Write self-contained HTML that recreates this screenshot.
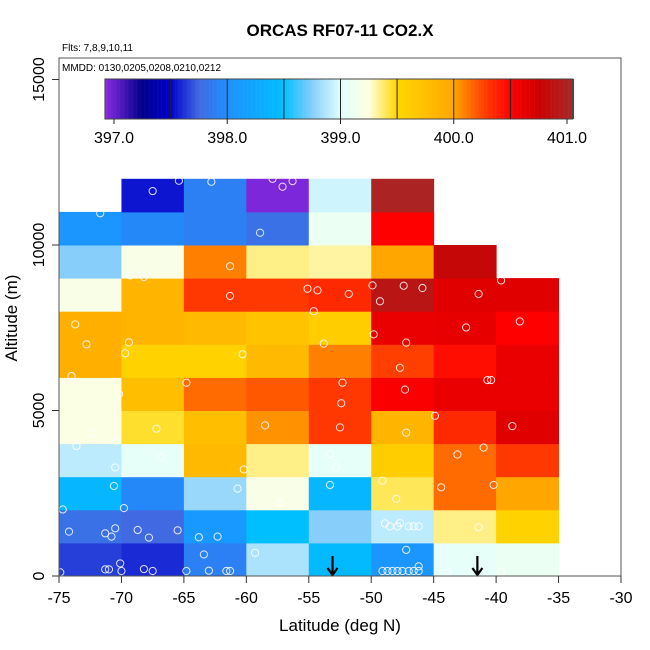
<!DOCTYPE html>
<html><head><meta charset="utf-8"><style>
html,body{margin:0;padding:0;background:#fff;}
svg{display:block;font-family:"Liberation Sans",sans-serif;}
</style></head><body>
<svg id="chart" width="650" height="650" viewBox="0 0 650 650">
<text x="340" y="36" text-anchor="middle" font-size="17" font-weight="bold">ORCAS RF07-11 CO2.X</text>
<text x="62" y="51" font-size="10">Flts: 7,8,9,10,11</text>
<g id="cells"></g>
<g id="points"></g>
<g id="arrows"></g>
<rect x="59" y="58" width="562" height="518" fill="none" stroke="#555" stroke-width="1"/>
<text x="62" y="71" font-size="10">MMDD: 0130,0205,0208,0210,0212</text>
<g id="colorbar"></g>
<g id="xaxis"></g>
<g id="yaxis"></g>
<text x="340" y="631" text-anchor="middle" font-size="17">Latitude (deg N)</text>
<text transform="translate(17,318) rotate(-90)" text-anchor="middle" font-size="17">Altitude (m)</text>
</svg>
<script>
const latBins = [-75,-70,-65,-60,-55,-50,-45,-40];
const altBins = [0,1000,2000,3000,4000,5000,6000,7000,8000,9000,10000,11000];
// CO2 values, rows = altitude bins (bottom up), cols = latitude bins
const row0  = [397.65,397.6,397.9,398.85,398.45,398.05,399.05,399.1];
const row1  = [397.8,397.75,398.1,398.5,398.75,398.9,399.35,399.55];
const row2  = [398.4,397.95,398.8,399.2,398.4,399.4,400.15,399.98];
const row3  = [398.9,399.05,399.8,399.35,399.05,399.6,400.15,400.3];
const row4  = [399.22,399.45,399.75,400.05,400.3,399.85,400.35,400.65];
const row5  = [399.22,399.75,400.15,400.2,400.3,400.52,400.6,400.6];
const row6  = [399.9,399.55,399.55,399.8,400.1,400.27,400.45,400.6];
const row7  = [399.9,399.85,399.8,399.7,399.6,400.6,400.62,400.5];
const row8  = [399.2,399.85,400.3,400.3,400.35,400.9,400.65,400.65];
const row9  = [398.75,399.2,400.1,399.35,399.32,399.98,400.8,null];
const row10 = [398.05,397.95,397.9,397.8,399.1,400.5,null,null];
const row11 = [null,397.55,397.9,396.95,398.95,401.0,null,null];
const gridValues = [row0,row1,row2,row3,row4,row5,row6,row7,row8,row9,row10,row11];
const pointLats = [-67.5,-65.4,-62.8,-57.1,-56.3,-57.9,-71.7,-58.9,-61.3,-69.3,-68.2,-61.3,-55.1,-54.3,-51.8,-49.9,-47.4,-45.9,-49.3,-41.4,-39.6,-73.7,-72.8,-69.4,-69.7,-60.3,-54.6,-53.8,-49.8,-47.2,-47.7,-42.4,-38.1,-74.0,-40.7,-40.4,-52.3,-64.8,-70.2,-52.4,-47.3,-72.3,-67.2,-70.4,-58.5,-52.5,-47.2,-44.9,-38.7,-73.6,-66.8,-70.5,-60.2,-53.3,-52.8,-43.1,-41.0,-70.6,-60.7,-57.3,-53.3,-49.1,-48.0,-44.4,-40.2,-74.7,-69.8,-74.2,-71.3,-70.8,-70.5,-68.7,-67.8,-65.5,-63.8,-62.3,-48.9,-48.5,-47.9,-47.7,-47.0,-46.6,-46.2,-41.4,-63.4,-59.3,-47.2,-46.2,-74.9,-71.3,-71.0,-70.1,-70.0,-68.2,-67.5,-64.8,-63.0,-61.6,-61.3,-49.1,-48.7,-48.3,-47.9,-47.5,-47.0,-46.6,-46.2,-43.9,-39.6];
const pointAlts = [11630,11940,11910,11760,11930,12000,10960,10370,9360,9080,9030,8460,8680,8630,8520,8780,8770,8700,8300,8520,8930,7600,7000,7060,6730,6700,8000,7020,7300,7050,6290,7510,7690,6040,5920,5920,5840,5840,5500,5220,5630,4330,4450,4090,4550,4490,4330,4840,4530,3930,3590,3280,3220,3680,3290,3670,3880,2720,2640,2210,2750,2880,2330,2680,2750,2010,2050,1340,1290,1190,1440,1390,1160,1380,1170,1190,1590,1500,1500,1600,1500,1500,1500,1470,650,700,790,290,110,200,200,380,150,210,150,150,160,150,150,150,150,150,150,150,150,150,150,110,110];
const arrowLats = [-53.1,-41.5];
const xTicks = [-75,-70,-65,-60,-55,-50,-45,-40,-35,-30];
const yTicks = [0,5000,10000,15000];
const cbTicks = [397,398,399,400,401];
const cbLines = [397.5,398,398.5,399,399.5,400,400.5];
const cbStopVals = [396.92,397.25,397.5,397.75,398.0,398.5,398.75,399.0,399.25,399.5,400.0,400.25,400.5,400.75,401.05];
const cbStopCols = ["#8a2be2","#00008b","#0000cd","#4169e1","#1e90ff","#00bfff","#87cefa","#e0ffff","#ffffe0","#ffd700","#ffa500","#ff4500","#ff0000","#cd0000","#a52a2a"];

const NS="http://www.w3.org/2000/svg";
const xS = v => 59 + (v + 75) * 562 / 45;
const yS = v => 576 - v * 496.5 / 15000;
const cS = v => 114 + (v - 397) * 113.25;
function hex(c){return [1,3,5].map(i=>parseInt(c.substr(i,2),16));}
function colorOf(v){
  if (v <= cbStopVals[0]) return cbStopCols[0];
  for (let i=1;i<cbStopVals.length;i++){
    if (v <= cbStopVals[i]){
      const t=(v-cbStopVals[i-1])/(cbStopVals[i]-cbStopVals[i-1]);
      const a=hex(cbStopCols[i-1]), b=hex(cbStopCols[i]);
      return "rgb("+a.map((x,k)=>Math.round(x+(b[k]-x)*t)).join(",")+")";
    }
  }
  return cbStopCols[cbStopCols.length-1];
}
function mk(tag, attrs, parent){const e=document.createElementNS(NS,tag);for(const k in attrs)e.setAttribute(k,attrs[k]);parent.appendChild(e);return e;}

const gc=document.getElementById('cells');
gridValues.forEach((row,r)=>row.forEach((v,c)=>{
  if(v===null) return;
  const x0=xS(latBins[c]), x1=xS(latBins[c]+5), y0=yS(altBins[r]+1000), y1=yS(altBins[r]);
  const el=mk('rect',{x:x0,y:y0,width:x1-x0+0.5,height:y1-y0+0.5,fill:colorOf(v)},gc);
  
  
}));

const gp=document.getElementById('points');
pointLats.forEach((la,i)=>{
  const el=mk('circle',{cx:xS(la),cy:yS(pointAlts[i]),r:3.6,fill:'none',stroke:'#fff','stroke-opacity':0.85,'stroke-width':1},gp);
  
  
});

const ga=document.getElementById('arrows');
arrowLats.forEach(la=>{
  const x=xS(la);
  const el=mk('path',{d:`M${x} 556 L${x} 575 M${x-5} 568 L${x} 575 L${x+5} 568`,stroke:'#000','stroke-width':2.2,fill:'none'},ga);
  
  
});

const gcb=document.getElementById('colorbar');
for(let v=396.92; v<401.05; v+=0.01){
  const el=mk('rect',{x:cS(v),y:79,width:1.4,height:40,fill:colorOf(v+0.005)},gcb);
  
  
}
mk('rect',{x:cS(396.92),y:79,width:cS(401.05)-cS(396.92),height:40,fill:'none',stroke:'#444','stroke-width':1},gcb);
cbLines.forEach(v=>{
  const el=mk('line',{x1:cS(v),x2:cS(v),y1:79,y2:119,stroke:'#222','stroke-width':1},gcb);
  
  
});
cbTicks.forEach(v=>{
  mk('line',{x1:cS(v),x2:cS(v),y1:119,y2:124,stroke:'#222'},gcb);
  const t=mk('text',{x:cS(v),y:143,'text-anchor':'middle','font-size':16},gcb);
  t.textContent=v.toFixed(1);
  
  
});

const gx=document.getElementById('xaxis');
xTicks.forEach(v=>{
  mk('line',{x1:xS(v),x2:xS(v),y1:576,y2:583,stroke:'#333'},gx);
  const t=mk('text',{x:xS(v),y:603,'text-anchor':'middle','font-size':16},gx);
  t.textContent=v;
  
  
});
const gy=document.getElementById('yaxis');
yTicks.forEach(v=>{
  mk('line',{x1:52,x2:59,y1:yS(v),y2:yS(v),stroke:'#333'},gy);
  const t=mk('text',{transform:`translate(44,${yS(v)}) rotate(-90)`,'text-anchor':'middle','font-size':16},gy);
  t.textContent=v;
  
  
});
</script>
</body></html>
